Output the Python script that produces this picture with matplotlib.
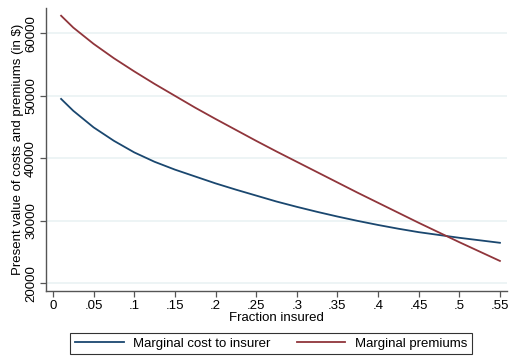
import matplotlib
matplotlib.use("Agg")
import matplotlib.pyplot as plt
from matplotlib.lines import Line2D

plt.rcParams['font.family'] = ['Liberation Sans', 'DejaVu Sans']

# Fraction insured and the two marginal curves (present value, $)
fraction = [0.01, 0.025, 0.05, 0.075, 0.10, 0.125, 0.15, 0.175, 0.20, 0.225, 0.25, 0.275,
            0.30, 0.325, 0.35, 0.375, 0.40, 0.425, 0.45, 0.475, 0.50, 0.525, 0.55]
marginal_cost = [49500, 47600, 44950, 42800, 40950, 39450, 38200, 37100, 36000, 35000, 34050, 33100,
                 32250, 31450, 30700, 30000, 29350, 28750, 28200, 27750, 27300, 26900, 26500]
marginal_premiums = [62800, 60900, 58300, 56000, 53900, 51900, 50000, 48100, 46300, 44550, 42800, 41100,
                     39450, 37800, 36150, 34500, 32900, 31300, 29700, 28150, 26600, 25100, 23600]

x_ticks = [0, 0.05, 0.1, 0.15, 0.2, 0.25, 0.3, 0.35, 0.4, 0.45, 0.5, 0.55]
x_tick_labels = ["0", ".05", ".1", ".15", ".2", ".25", ".3", ".35", ".4", ".45", ".5", ".55"]
y_ticks = [20000, 30000, 40000, 50000, 60000]

navy = "#1a476f"
maroon = "#90353b"
grid_col = "#eaf2f3"
axis_col = "#555555"

fig = plt.figure(figsize=(5.11, 3.59), dpi=100)
ax = fig.add_axes([0.090, 0.189, 0.902, 0.789])

ax.plot(fraction, marginal_cost, color=navy, lw=1.3, solid_joinstyle="round")
ax.plot(fraction, marginal_premiums, color=maroon, lw=1.3, solid_joinstyle="round")

ax.set_xlim(-0.0086, 0.5586)
ax.set_ylim(18770, 64050)

ax.set_xticks(x_ticks)
ax.set_xticklabels(x_tick_labels)
ax.set_yticks(y_ticks)
ax.set_yticklabels([str(v) for v in y_ticks], rotation=90, va="center")

ax.yaxis.grid(True, color=grid_col, lw=1.2)
ax.set_axisbelow(True)

for s in ("top", "right"):
    ax.spines[s].set_visible(False)
for s in ("left", "bottom"):
    ax.spines[s].set_color(axis_col)
    ax.spines[s].set_linewidth(1.0)

ax.tick_params(axis="both", direction="out", length=4, width=0.9, color=axis_col,
               labelsize=9.5, labelcolor="black", pad=2.5)

ax.set_xlabel("Fraction insured", fontsize=9.5, labelpad=0)
ax.set_ylabel("Present value of costs and premiums (in $)", fontsize=9.5, labelpad=1)

handles = [Line2D([], [], color=navy, lw=1.3), Line2D([], [], color=maroon, lw=1.3)]
leg = fig.legend(handles, ["Marginal cost to insurer", "Marginal premiums"],
                 loc="lower center", bbox_to_anchor=(0.53, -0.005), ncol=2,
                 fontsize=9.5, frameon=True, fancybox=False, edgecolor="black",
                 handlelength=3.7, columnspacing=2.0, borderpad=0.35, handletextpad=0.7)
leg.get_frame().set_linewidth(0.8)

fig.savefig("out.png", dpi=100, facecolor="white")
